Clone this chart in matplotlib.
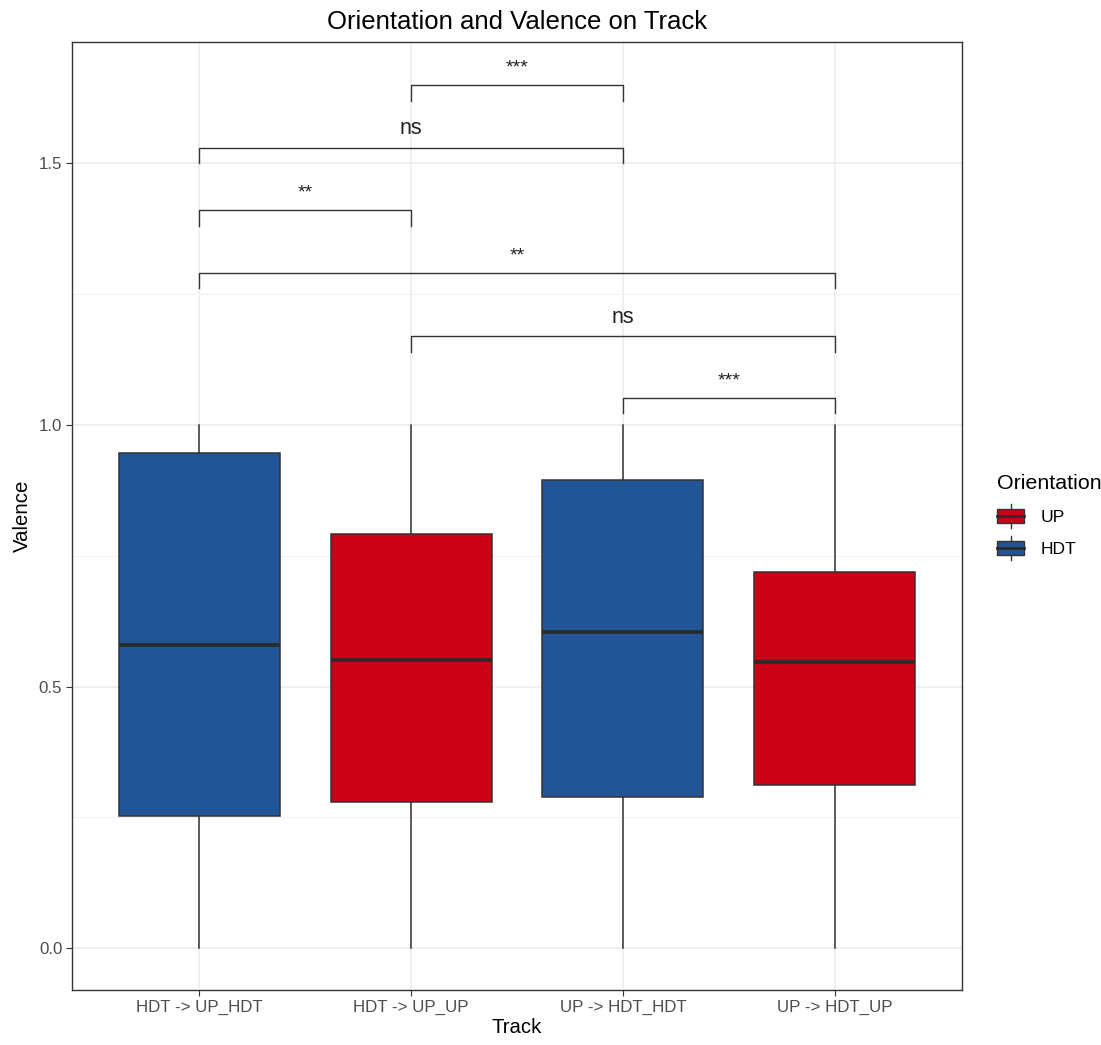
import matplotlib.pyplot as plt
from matplotlib.patches import Patch, Rectangle
from matplotlib.lines import Line2D
from matplotlib.legend_handler import HandlerBase

plt.rcParams['font.family'] = ['Liberation Sans', 'DejaVu Sans']

# 資料
tracks = ['HDT -> UP_HDT', 'HDT -> UP_UP', 'UP -> HDT_HDT', 'UP -> HDT_UP']
orientation = ['HDT', 'UP', 'HDT', 'UP']
q1 = [0.252, 0.279, 0.289, 0.312]
median = [0.579, 0.551, 0.604, 0.547]
q3 = [0.946, 0.792, 0.895, 0.719]
whis_lo = [0.0, 0.0, 0.0, 0.0]
whis_hi = [1.0, 1.0, 1.0, 1.0]

# 比較括號: (群組1, 群組2, 高度, 標籤)
comp_a = [2, 1, 1, 1, 2, 3]
comp_b = [3, 3, 2, 4, 4, 4]
comp_y = [1.650, 1.530, 1.411, 1.291, 1.170, 1.052]
comp_lab = ['***', 'ns', '**', '**', 'ns', '***']

colors = {'UP': '#CC0016', 'HDT': '#225596'}
edge = '#333333'


class BoxKeyHandler(HandlerBase):
    # 圖例中的小盒鬚圖
    def create_artists(self, legend, orig_handle, xdescent, ydescent,
                       width, height, fontsize, trans):
        bh = height * 0.72
        y0 = -ydescent + (height - bh) / 2
        x0 = -xdescent
        rect = Rectangle((x0, y0), width, bh, facecolor=orig_handle.get_facecolor(),
                         edgecolor=edge, linewidth=1.0, transform=trans)
        xm = x0 + width / 2
        med = Line2D([x0, x0 + width], [y0 + bh / 2] * 2, color='#2a2a2a',
                     linewidth=2.0, transform=trans)
        top = Line2D([xm, xm], [y0 + bh, y0 + bh + height * 0.25], color=edge,
                     linewidth=1.0, transform=trans)
        bot = Line2D([xm, xm], [y0, y0 - height * 0.25], color=edge,
                     linewidth=1.0, transform=trans)
        return [rect, med, top, bot]


fig = plt.figure(figsize=(11.01, 10.45), dpi=100)
ax = fig.add_axes([72 / 1101, 55 / 1045, 890 / 1101, 948 / 1045])

stats = []
for i in range(len(tracks)):
    stats.append(dict(q1=q1[i], med=median[i], q3=q3[i],
                      whislo=whis_lo[i], whishi=whis_hi[i], fliers=[]))

bp = ax.bxp(stats, positions=range(1, 5), widths=0.76, patch_artist=True,
            showcaps=False, showfliers=False,
            boxprops=dict(edgecolor=edge, linewidth=1.1),
            whiskerprops=dict(color=edge, linewidth=1.1),
            medianprops=dict(color='#2a2a2a', linewidth=2.6),
            zorder=3)
for patch, o in zip(bp['boxes'], orientation):
    patch.set_facecolor(colors[o])

# 顯著性括號
tip = 0.03
for a, b, y, lab in zip(comp_a, comp_b, comp_y, comp_lab):
    ax.plot([a, a, b, b], [y - tip, y, y, y - tip], color='#333333',
            linewidth=1.0, zorder=4)
    fs = 15.5 if lab == 'ns' else 14
    ax.text((a + b) / 2, y + 0.016, lab, ha='center', va='bottom',
            fontsize=fs, color='#222222')

ax.set_xlim(0.4, 4.6)
ax.set_ylim(-0.08, 1.732)
ax.set_xticks(range(1, 5))
ax.set_xticklabels(tracks, fontsize=12.2, color='#4d4d4d')
ax.set_yticks([0.0, 0.5, 1.0, 1.5])
ax.set_yticklabels(['0.0', '0.5', '1.0', '1.5'], fontsize=12.2, color='#4d4d4d')
ax.set_yticks([0.25, 0.75, 1.25], minor=True)
ax.tick_params(axis='both', which='major', length=4, color='#333333', pad=3)
ax.tick_params(axis='y', which='minor', length=0)
ax.grid(True, which='major', color='#EBEBEB', linewidth=1.1, zorder=0)
ax.grid(True, which='minor', axis='y', color='#F2F2F2', linewidth=0.8, zorder=0)
ax.set_axisbelow(True)
for s in ax.spines.values():
    s.set_color('#333333')
    s.set_linewidth(1.0)

ax.set_xlabel('Track', fontsize=14.7, labelpad=2)
ax.set_ylabel('Valence', fontsize=14.7, labelpad=5)
ax.set_title('Orientation and Valence on Track', fontsize=18.5, pad=9)

# 圖例
handles = [Patch(facecolor=colors['UP'], label='UP'),
           Patch(facecolor=colors['HDT'], label='HDT')]
fig.legend(handles=handles, title='Orientation', loc='upper left',
           bbox_to_anchor=(985 / 1101, 1 - 462 / 1045), frameon=False,
           fontsize=12.6, title_fontsize=15.4, handlelength=1.55,
           handleheight=1.3, labelspacing=0.75, handletextpad=0.9,
           borderaxespad=0.3, alignment='left',
           handler_map={Patch: BoxKeyHandler()})

fig.savefig('out.png', dpi=100)
